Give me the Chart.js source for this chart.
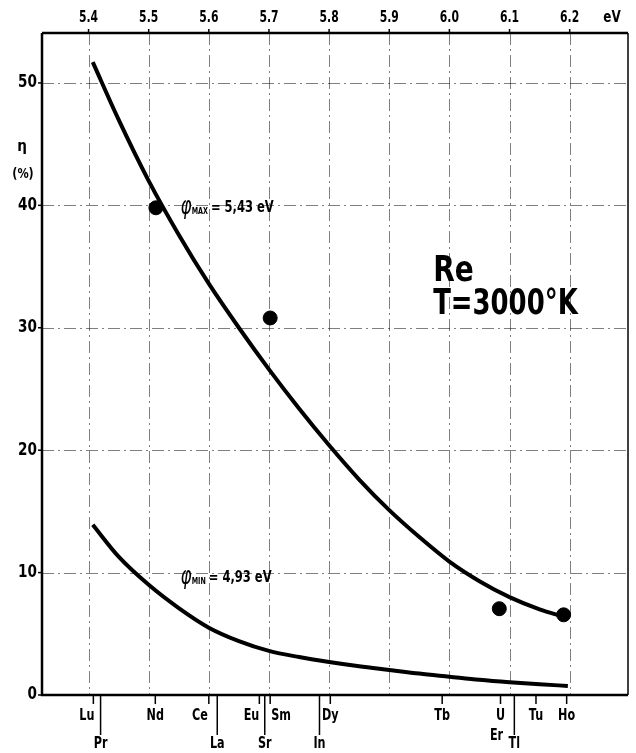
<!DOCTYPE html>
<html>
<head>
<meta charset="utf-8">
<script src="https://cdn.jsdelivr.net/npm/chart.js@4/dist/chart.umd.min.js"></script>
<style>
  html, body { margin: 0; padding: 0; background: #fff; }
  canvas { display: block; }
</style>
</head>
<body>
<canvas id="myChart" width="636" height="753"></canvas>
<script>
// curve for phi max = 5.43 eV
const upperEv  = [5.407, 5.45, 5.50, 5.55, 5.60, 5.65, 5.70, 5.75, 5.80, 5.85, 5.90, 5.95, 6.00, 6.05, 6.10, 6.15, 6.19]
const upperEta = [51.7, 47.0, 42.0, 37.6, 33.6, 30.0, 26.6, 23.4, 20.4, 17.6, 15.1, 12.9, 10.9, 9.3, 8.0, 7.0, 6.4]

// curve for phi min = 4.93 eV
const lowerEv  = [5.407, 5.45, 5.50, 5.55, 5.60, 5.65, 5.70, 5.75, 5.80, 5.85, 5.90, 5.95, 6.00, 6.05, 6.10, 6.15, 6.197]
const lowerEta = [13.9, 11.3, 9.0, 7.1, 5.5, 4.4, 3.6, 3.1, 2.7, 2.35, 2.05, 1.75, 1.5, 1.25, 1.05, 0.88, 0.74]

// measured points
const pointEv  = [5.512, 5.702, 6.083, 6.19]
const pointEta = [39.8, 30.8, 7.05, 6.55]

const topTicks = [5.4, 5.5, 5.6, 5.7, 5.8, 5.9, 6.0, 6.1, 6.2]
const yTicks = [0, 10, 20, 30, 40, 50]

// elements along the bottom: name, eV, row (1 = short tick, 2 = long tick, 3 = no tick)
const elementNames = ['Lu', 'Pr', 'Nd', 'Ce', 'La', 'Eu', 'Sr', 'Sm', 'In', 'Dy', 'Tb', 'U', 'Er', 'Tl', 'Tu', 'Ho']
const elementEv    = [5.408, 5.420, 5.511, 5.600, 5.614, 5.684, 5.693, 5.702, 5.784, 5.802, 5.988, 6.085, 6.085, 6.108, 6.144, 6.195]
const elementRow   = [1, 2, 1, 1, 2, 1, 2, 1, 2, 1, 1, 1, 3, 2, 1, 1]

const FONT = "'DejaVu Sans', 'Liberation Sans', sans-serif"

const toXY = (xs, ys) => xs.map((x, i) => ({x, y: ys[i]}))

// condensed text: squeeze horizontally around the anchor
function squeezeText(ctx, text, x, y, font, sx, align) {
  ctx.save()
  ctx.font = font
  ctx.textAlign = align
  ctx.translate(x, y)
  ctx.scale(sx, 1)
  ctx.fillText(text, 0, 0)
  const w = ctx.measureText(text).width * sx
  ctx.restore()
  return w
}

// labels that sit beside their tick instead of under it
const sideLabel = { Lu: ['right', 1], Ce: ['right', -1], Eu: ['right', 0], Sm: ['left', 1], Er: ['center', -4] }

const gridPlugin = {
  id: 'paperGrid',
  beforeDatasetsDraw(chart) {
    const {ctx, chartArea: a, scales: {x, y}} = chart
    ctx.save()
    ctx.strokeStyle = 'rgba(0,0,0,0.5)'
    ctx.lineWidth = 1
    ctx.setLineDash([12, 4, 2, 4])
    topTicks.forEach(v => {
      const px = Math.round(x.getPixelForValue(v)) + 0.5
      ctx.beginPath(); ctx.moveTo(px, a.top); ctx.lineTo(px, a.bottom); ctx.stroke()
    })
    yTicks.slice(1).forEach(v => {
      const py = Math.round(y.getPixelForValue(v)) + 0.5
      ctx.beginPath(); ctx.moveTo(a.left, py); ctx.lineTo(a.right, py); ctx.stroke()
    })
    ctx.restore()
  }
}

const framePlugin = {
  id: 'frameAndText',
  afterDraw(chart) {
    const {ctx, chartArea: a, scales: {x, y}} = chart
    ctx.save()
    ctx.strokeStyle = '#000'
    ctx.fillStyle = '#000'
    ctx.setLineDash([])

    // frame
    ctx.lineWidth = 2.5
    ctx.beginPath()
    ctx.moveTo(a.left, a.top); ctx.lineTo(a.right, a.top)
    ctx.moveTo(a.left, a.top); ctx.lineTo(a.left, a.bottom); ctx.lineTo(a.right, a.bottom)
    ctx.stroke()
    ctx.lineWidth = 1.5
    ctx.beginPath(); ctx.moveTo(a.right, a.top); ctx.lineTo(a.right, a.bottom); ctx.stroke()

    ctx.textBaseline = 'middle'

    // top eV ticks
    topTicks.forEach(v => {
      const px = x.getPixelForValue(v)
      ctx.beginPath(); ctx.moveTo(px, a.top - 4); ctx.lineTo(px, a.top); ctx.stroke()
      squeezeText(ctx, v.toFixed(1), px, 18, 'bold 15px ' + FONT, 0.72, 'center')
    })
    squeezeText(ctx, 'eV', 612, 18, 'bold 15px ' + FONT, 0.8, 'center')

    // y ticks
    yTicks.forEach(v => {
      const py = y.getPixelForValue(v)
      ctx.beginPath(); ctx.moveTo(a.left - 4, py); ctx.lineTo(a.left, py); ctx.stroke()
      squeezeText(ctx, String(v), a.left - 5, py, 'bold 17px ' + FONT, 0.8, 'right')
    })

    // y title
    squeezeText(ctx, 'η', 22, 147, 'bold 16px ' + FONT, 0.85, 'center')
    squeezeText(ctx, '(%)', 23, 174, 'bold 14px ' + FONT, 0.8, 'center')

    // element labels
    elementNames.forEach((name, i) => {
      const px = x.getPixelForValue(elementEv[i])
      const row = elementRow[i]
      const f = 'bold 16px ' + FONT
      const [align, dx] = sideLabel[name] || ['center', 0]
      if (row === 1) {
        ctx.beginPath(); ctx.moveTo(px, a.bottom); ctx.lineTo(px, a.bottom + 9); ctx.stroke()
        squeezeText(ctx, name, px + dx, 716, f, 0.7, align)
      } else if (row === 2) {
        ctx.beginPath(); ctx.moveTo(px, a.bottom); ctx.lineTo(px, a.bottom + 40); ctx.stroke()
        squeezeText(ctx, name, px + dx, 744, f, 0.7, align)
      } else {
        squeezeText(ctx, name, px + dx, 736, f, 0.7, align)
      }
    })

    // phi annotations
    ctx.textBaseline = 'alphabetic'
    const phi = (sub, val, ev, eta) => {
      let px = x.getPixelForValue(ev)
      const py = y.getPixelForValue(eta)
      px += squeezeText(ctx, 'φ', px, py + 9, 'italic 24px ' + FONT, 0.7, 'left')
      px += squeezeText(ctx, sub, px, py + 9, 'bold 8px ' + FONT, 0.8, 'left') + 3
      squeezeText(ctx, '= ' + val + ' eV', px, py + 7, 'bold 16px ' + FONT, 0.72, 'left')
    }
    phi('MAX', '5,43', 5.553, 40.0)
    phi('MIN', '4,93', 5.553, 9.8)

    // Re / T label
    const lx = x.getPixelForValue(5.973)
    squeezeText(ctx, 'Re', lx, y.getPixelForValue(33.85), 'bold 35px ' + FONT, 0.8, 'left')
    squeezeText(ctx, 'T=3000°K', lx, y.getPixelForValue(31.15), 'bold 36px ' + FONT, 0.72, 'left')
    ctx.restore()
  }
}

const ctx = document.getElementById('myChart').getContext('2d')
const chart = new Chart(ctx, {
  type: 'line',
  data: {
    datasets: [{
      data: toXY(upperEv, upperEta),
      borderColor: '#000',
      borderWidth: 4,
      pointRadius: 0,
      cubicInterpolationMode: 'monotone'
    }, {
      data: toXY(lowerEv, lowerEta),
      borderColor: '#000',
      borderWidth: 4,
      pointRadius: 0,
      cubicInterpolationMode: 'monotone'
    }, {
      data: toXY(pointEv, pointEta),
      showLine: false,
      pointRadius: 7,
      pointBackgroundColor: '#000',
      pointBorderColor: '#000'
    }]
  },
  options: {
    responsive: false,
    animation: false,
    layout: { padding: { left: 42, right: 2, top: 33, bottom: 58 } },
    plugins: { legend: { display: false }, tooltip: { enabled: false } },
    scales: {
      x: { type: 'linear', min: 5.3226, max: 6.297, display: false },
      y: { type: 'linear', min: 0, max: 54.08, display: false }
    }
  },
  plugins: [gridPlugin, framePlugin]
})
</script>
</body>
</html>
